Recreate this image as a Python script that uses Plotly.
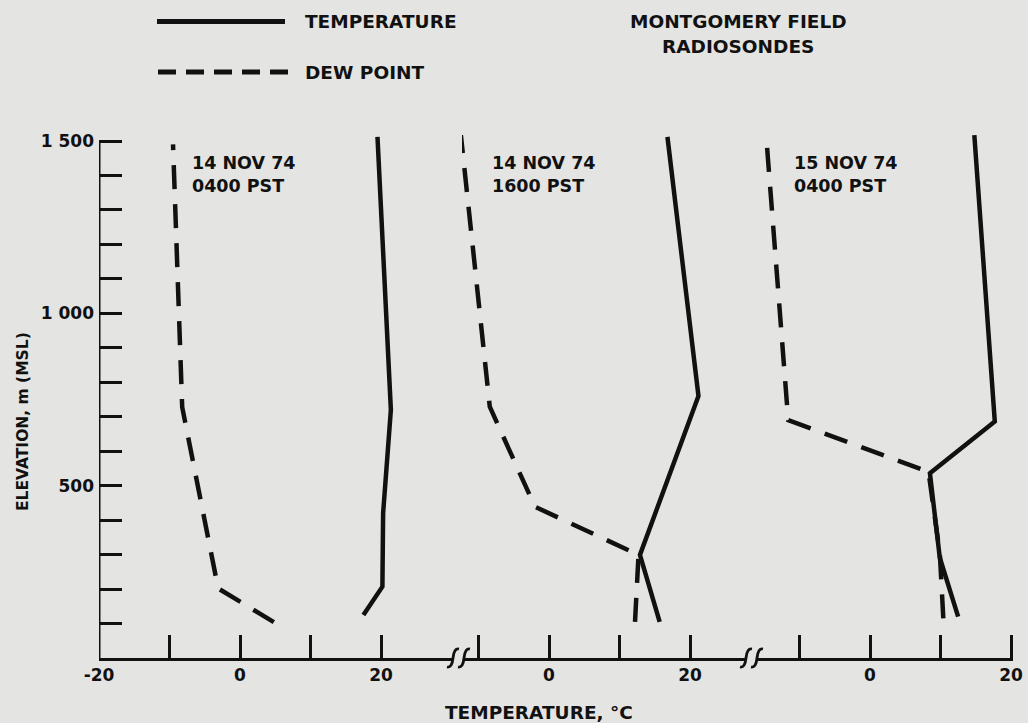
import plotly.graph_objects as go

# ---- Montgomery Field radiosonde profiles (temperature in deg C, elevation in m MSL)
temp_14nov_0400 = [17.5, 20.2, 20.3, 21.4, 19.5]
temp_14nov_0400_z = [125, 207, 420, 720, 1512]
dew_14nov_0400 = [4.8, -3.1, -8.2, -9.5]
dew_14nov_0400_z = [104, 202, 728, 1490]

temp_14nov_1600 = [15.7, 12.9, 21.2, 16.8]
temp_14nov_1600_z = [105, 299, 760, 1512]
dew_14nov_1600 = [12.2, 12.7, -2.0, -8.4, -12.5]
dew_14nov_1600_z = [105, 299, 439, 729, 1517]

temp_15nov_0400 = [12.5, 9.9, 8.5, 17.7, 14.8]
temp_15nov_0400_z = [120, 291, 536, 686, 1517]
dew_15nov_0400 = [10.4, 9.9, 8.3, -11.6, -14.7]
dew_15nov_0400_z = [115, 304, 540, 690, 1508]

panel_titles = ["14 NOV 74<br>0400 PST", "14 NOV 74<br>1600 PST", "15 NOV 74<br>0400 PST"]
y_tickvals = list(range(100, 1600, 100))
y_ticklabels = {500: "500", 1000: "1 000", 1500: "1 500"}
x_ticks_first = [-20, -10, 0, 10, 20]
x_ticks_other = [-10, 0, 10, 20]

# ---- page geometry (pixels)
W, H = 1028, 723
PX_PER_DEG = 7.05
PX_PER_M = 517 / 1500
Y_AXIS_PX = 658          # pixel row of 0 m
Y_TOP_M = 1545
FONT = "DejaVu Sans"
INK = "#111111"
BG = "#e4e4e2"


def px(x):
    return x / W


def py(y):
    return 1 - y / H


# each panel: left edge px, right edge px, pixel column of 0 deg C
panels = [(99, 462, 240), (462, 751, 549), (751, 1012.5, 870)]

fig = go.Figure()

series = [
    (temp_14nov_0400, temp_14nov_0400_z, dew_14nov_0400, dew_14nov_0400_z),
    (temp_14nov_1600, temp_14nov_1600_z, dew_14nov_1600, dew_14nov_1600_z),
    (temp_15nov_0400, temp_15nov_0400_z, dew_15nov_0400, dew_15nov_0400_z),
]

for i, (t, tz, d, dz) in enumerate(series):
    xa = "x" if i == 0 else f"x{i + 1}"
    fig.add_trace(go.Scatter(x=d, y=dz, xaxis=xa, yaxis="y", mode="lines",
                             line=dict(color=INK, width=4.5, dash="24px,15px"),
                             name="DEW POINT", showlegend=False, hoverinfo="skip"))
    fig.add_trace(go.Scatter(x=t, y=tz, xaxis=xa, yaxis="y", mode="lines",
                             line=dict(color=INK, width=4.5),
                             name="TEMPERATURE", showlegend=False, hoverinfo="skip"))

tickfont = dict(family=FONT, size=17, color=INK, weight="bold")
y_bottom = py(Y_AXIS_PX)
y_top = py(Y_AXIS_PX - Y_TOP_M * PX_PER_M)

layout = dict(
    width=W, height=H, autosize=False,
    margin=dict(l=0, r=0, t=0, b=0, pad=0, autoexpand=False),
    paper_bgcolor=BG, plot_bgcolor=BG,
    showlegend=False,
    yaxis=dict(domain=[y_bottom, y_top], range=[0, Y_TOP_M], anchor="x",
               tickvals=y_tickvals,
               ticktext=[y_ticklabels.get(v, "") for v in y_tickvals],
               ticks="inside", ticklen=23, tickwidth=3, tickcolor=INK,
               showline=False, showgrid=False, zeroline=False, automargin=False,
               tickfont=tickfont, ticklabelstandoff=4),
)

for i, (left, right, zero) in enumerate(panels):
    key = "xaxis" if i == 0 else f"xaxis{i + 1}"
    vals = x_ticks_first if i == 0 else x_ticks_other
    layout[key] = dict(
        domain=[px(left), px(right)],
        range=[(left - zero) / PX_PER_DEG, (right - zero) / PX_PER_DEG],
        anchor="y", tickvals=vals,
        ticktext=[str(v) if v in (-20, 0, 20) else "" for v in vals],
        ticks="inside", ticklen=23, tickwidth=3, tickcolor=INK,
        showline=True, linewidth=3, linecolor=INK, automargin=False,
        showgrid=False, zeroline=False, tickfont=tickfont,
    )

fig.update_layout(**layout)

shapes = []
# vertical elevation axis, 0 to 1500 m
shapes.append(dict(type="line", xref="x", yref="y", x0=-20, x1=-20, y0=0, y1=1500,
                   line=dict(color=INK, width=3)))


# axis break marks: pairs of slanted S strokes on the temperature axis
def s_stroke(cx, cy):
    pts = [(cx - 6, cy + 9), (cx - 1, cy + 10), (cx, cy), (cx + 1, cy - 10), (cx + 6, cy - 9)]
    p = [(px(a), py(b)) for a, b in pts]
    return (f"M {p[0][0]},{p[0][1]} Q {p[1][0]},{p[1][1]} {p[2][0]},{p[2][1]} "
            f"Q {p[3][0]},{p[3][1]} {p[4][0]},{p[4][1]}")


for bx in (453, 746):
    shapes.append(dict(type="rect", xref="paper", yref="paper",
                       x0=px(bx), x1=px(bx + 11), y0=py(Y_AXIS_PX + 3), y1=py(Y_AXIS_PX - 3),
                       fillcolor=BG, line=dict(width=0)))
    for cx in (bx, bx + 11):
        shapes.append(dict(type="path", xref="paper", yref="paper", path=s_stroke(cx, Y_AXIS_PX),
                           line=dict(color=INK, width=2.8)))

# key samples
shapes.append(dict(type="line", xref="paper", yref="paper", x0=px(157), x1=px(285),
                   y0=py(21.5), y1=py(21.5), line=dict(color=INK, width=5)))
shapes.append(dict(type="line", xref="paper", yref="paper", x0=px(158), x1=px(290),
                   y0=py(72), y1=py(72), line=dict(color=INK, width=5, dash="18px,10px")))

fig.update_layout(shapes=shapes)

textfont = dict(family=FONT, size=17, color=INK, weight="bold")
ann = []


def label(text, x, y, xanchor="left", size=17, angle=0):
    f = dict(textfont)
    f["size"] = size
    ann.append(dict(text=text, xref="paper", yref="paper", x=px(x), y=py(y),
                    xanchor=xanchor, yanchor="middle", showarrow=False,
                    font=f, textangle=angle))


label("TEMPERATURE", 303, 21, size=18.5)
label("DEW POINT", 303, 73, size=18.5)
label("MONTGOMERY FIELD", 738, 21, xanchor="center", size=18.5)
label("RADIOSONDES", 738, 46, xanchor="center", size=18.5)
panel_font = dict(textfont)
panel_font["size"] = 17.5
for (left, right, zero), title, tx in zip(panels, panel_titles, (190, 490, 792)):
    ann.append(dict(text=title, xref="paper", yref="paper", x=px(tx), y=py(151),
                    xanchor="left", yanchor="top", align="left", showarrow=False,
                    font=panel_font))
label("TEMPERATURE, °C", 539, 712, xanchor="center", size=18.5)
label("ELEVATION, m (MSL)", 23, 422, xanchor="center", size=15.5, angle=-90)

fig.update_layout(annotations=ann)

fig.write_html("out.html")
